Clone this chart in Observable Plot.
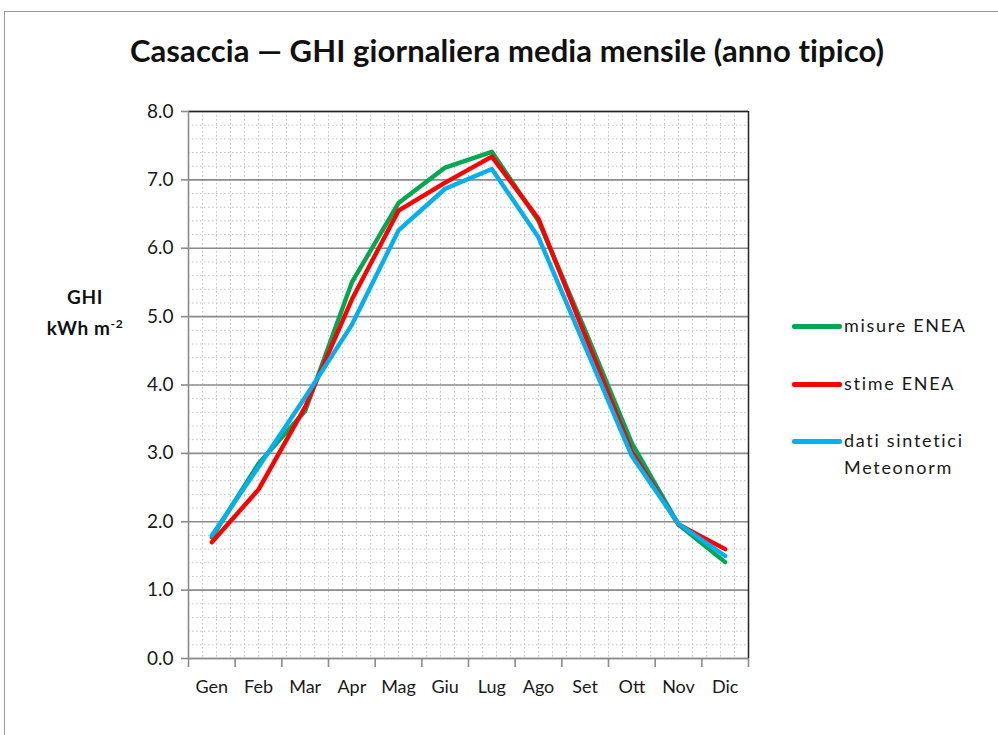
<!DOCTYPE html>
<html>
<head>
<meta charset="utf-8">
<script src="https://cdn.jsdelivr.net/npm/d3@7"></script>
<script src="https://cdn.jsdelivr.net/npm/@observablehq/plot@0.6"></script>
<style>
  body { margin: 0; background: #fff; font-family: Lato, "Open Sans", sans-serif; }
  #wrap { position: relative; width: 998px; height: 735px; overflow: hidden; background: #fff; }
  #frame { position: absolute; left: 4px; top: 11px; width: 1100px; height: 800px; border-left: 1.5px solid #9a9a9a; border-top: 1.5px solid #9a9a9a; }
  #title { position: absolute; left: 0; width: 1014px; top: 31px; text-align: center; font-weight: bold; font-size: 31px; color: #111; letter-spacing: 0.1px; }
  #chart { position: absolute; left: 0; top: 0; }
  #ylab { position: absolute; left: 30px; width: 110px; top: 283px; text-align: center; font-weight: bold; font-size: 19px; line-height: 27px; color: #111; letter-spacing: 0.6px; }
  #ylab sup { font-size: 12px; }
  .leg { position: absolute; left: 792px; font-size: 18px; color: #1a1a1a; line-height: 27px; letter-spacing: 1.7px; }
  .leg span.sw { position: absolute; left: 0; top: 12px; width: 50px; height: 4.5px; border-radius: 2px; }
  .leg span.tx { position: absolute; left: 52px; top: 0; white-space: nowrap; }
</style>
</head>
<body>
<div id="wrap">
  <div id="frame"></div>
  <div id="title">Casaccia — GHI giornaliera media mensile (anno tipico)</div>
  <div id="chart"></div>
  <div id="ylab">GHI<br>kWh m<sup>-2</sup></div>
  <div id="legend"></div>
</div>
<script>
const months = ["Gen","Feb","Mar","Apr","Mag","Giu","Lug","Ago","Set","Ott","Nov","Dic"];
const misureENEA = [1.77, 2.85, 3.62, 5.50, 6.66, 7.18, 7.41, 6.40, 4.80, 3.15, 1.96, 1.41];
const stimeENEA  = [1.70, 2.47, 3.68, 5.25, 6.55, 6.96, 7.34, 6.43, 4.72, 3.02, 1.96, 1.60];
const meteonorm  = [1.80, 2.80, 3.82, 4.88, 6.26, 6.87, 7.16, 6.16, 4.56, 2.96, 1.97, 1.50];
const seriesNames = ["misure ENEA", "stime ENEA", "dati sintetici\nMeteonorm"];
const seriesColors = ["#00A84F", "#FF0000", "#00B0F0"];
const yTicks = [0,1,2,3,4,5,6,7,8];

const seriesValues = [misureENEA, stimeENEA, meteonorm];
const rows = [];
seriesValues.forEach((vals, s) => vals.forEach((v, i) => rows.push({s, month: months[i], pos: i + 0.5, v})));

const monthPos = months.map((m, i) => i + 0.5);
const boundaries = d3.range(0, months.length + 1);

const plot = Plot.plot({
  width: 998,
  height: 735,
  marginLeft: 188,
  marginRight: 250,
  marginTop: 111,
  marginBottom: 77,
  style: {fontFamily: "Lato, 'Open Sans', sans-serif", fontSize: "18px", color: "#1a1a1a", background: "transparent"},
  x: {domain: [0, 12], axis: null},
  y: {domain: [0, 8], axis: null},
  marks: [
    Plot.gridX(d3.range(0, 12.0001, 0.3), {stroke: "#c4c4c4", strokeOpacity: 1, strokeDasharray: "1.5,2.5", strokeWidth: 1}),
    Plot.gridY(d3.range(0, 8.0001, 0.2), {stroke: "#c4c4c4", strokeOpacity: 1, strokeDasharray: "1.5,2.5", strokeWidth: 1}),
    Plot.gridY(yTicks, {stroke: "#8c8c8c", strokeOpacity: 1, strokeWidth: 1.6}),
    Plot.ruleY([8], {stroke: "#222", strokeWidth: 1.5}),
    Plot.ruleX([12], {stroke: "#222", strokeWidth: 1.5}),
    Plot.ruleX([0], {stroke: "#8c8c8c", strokeWidth: 1.6}),
    Plot.ruleY([0], {stroke: "#8c8c8c", strokeWidth: 1.6}),
    Plot.axisY(yTicks, {label: null, tickSize: 7, tickPadding: 8, tickFormat: d3.format(".1f"), stroke: "#8c8c8c", strokeWidth: 1.6, fill: "#1a1a1a", fontSize: 19}),
    Plot.axisX(boundaries, {label: null, tickSize: 9, tickFormat: () => "", stroke: "#8c8c8c", strokeWidth: 1.6}),
    Plot.axisX(monthPos, {label: null, tickSize: 0, tickPadding: 22, tickFormat: (d) => months[Math.round(d - 0.5)], fill: "#1a1a1a", fontSize: 18}),
    ...seriesValues.map((_, s) => Plot.line(rows.filter(r => r.s === s), {x: "pos", y: "v", stroke: seriesColors[s], strokeWidth: 4.4, strokeLinejoin: "round"}))
  ]
});
document.getElementById("chart").appendChild(plot);

// legend
const legendTops = [312, 370, 427];
const legend = document.getElementById("legend");
seriesNames.forEach((name, s) => {
  const d = document.createElement("div");
  d.className = "leg";
  d.style.top = legendTops[s] + "px";
  const sw = document.createElement("span");
  sw.className = "sw";
  sw.style.background = seriesColors[s];
  const tx = document.createElement("span");
  tx.className = "tx";
  tx.innerHTML = name.replace("\n", "<br>");
  d.appendChild(sw); d.appendChild(tx);
  legend.appendChild(d);
});
</script>
</body>
</html>
